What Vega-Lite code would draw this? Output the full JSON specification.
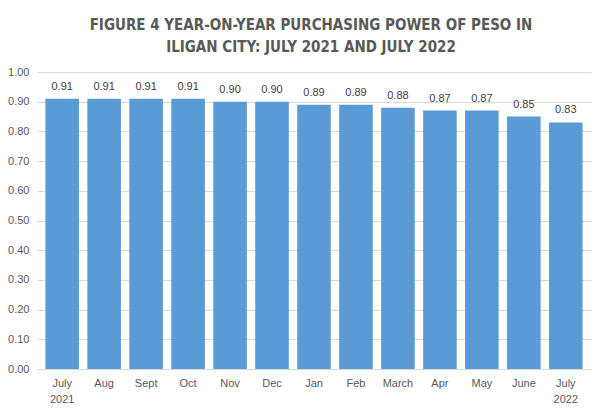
{
  "$schema": "https://vega.github.io/schema/vega-lite/v6.json",
  "width": 554,
  "height": 297,
  "autosize": {"type": "none"},
  "padding": {"left": 37, "top": 72, "right": 14, "bottom": 46},
  "background": "white",
  "title": {
    "text": ["FIGURE 4 YEAR-ON-YEAR PURCHASING POWER OF PESO IN", "ILIGAN CITY: JULY 2021 AND JULY 2022"],
    "font": "DejaVu Sans Condensed, Roboto",
    "fontSize": 15,
    "fontWeight": "bold",
    "color": "#595959",
    "lineHeight": 22,
    "anchor": "middle",
    "frame": "group",
    "offset": 11,
    "dx": -3
  },
  "data": {
    "values": [
      {"month": "July|2021", "value": 0.91},
      {"month": "Aug", "value": 0.91},
      {"month": "Sept", "value": 0.91},
      {"month": "Oct", "value": 0.91},
      {"month": "Nov", "value": 0.90},
      {"month": "Dec", "value": 0.90},
      {"month": "Jan", "value": 0.89},
      {"month": "Feb", "value": 0.89},
      {"month": "March", "value": 0.88},
      {"month": "Apr", "value": 0.87},
      {"month": "May", "value": 0.87},
      {"month": "June", "value": 0.85},
      {"month": "July|2022", "value": 0.83}
    ]
  },
  "encoding": {
    "x": {
      "field": "month",
      "type": "nominal",
      "sort": null,
      "scale": {"paddingInner": 0.2, "paddingOuter": 0.2},
      "axis": {
        "title": null,
        "labelAngle": 0,
        "labelExpr": "split(datum.label, '|')",
        "labelFont": "Liberation Sans",
        "labelFontSize": 11,
        "labelColor": "#595959",
        "labelLineHeight": 16,
        "labelPadding": 8,
        "ticks": false,
        "domainColor": "#d9d9d9",
        "grid": false
      }
    },
    "y": {
      "field": "value",
      "type": "quantitative",
      "scale": {"domain": [0, 1]},
      "axis": {
        "title": null,
        "format": ".2f",
        "values": [0, 0.1, 0.2, 0.3, 0.4, 0.5, 0.6, 0.7, 0.8, 0.9, 1.0],
        "labelFont": "Liberation Sans",
        "labelFontSize": 11,
        "labelColor": "#595959",
        "labelPadding": 8,
        "ticks": false,
        "domain": false,
        "gridColor": "#d9d9d9"
      }
    }
  },
  "layer": [
    {"mark": {"type": "bar", "color": "#5b9bd5"}},
    {
      "mark": {"type": "text", "dy": -12, "font": "Liberation Sans", "fontSize": 11, "color": "#404040"},
      "encoding": {"text": {"field": "value", "type": "quantitative", "format": ".2f"}}
    }
  ],
  "config": {"view": {"stroke": null}}
}
